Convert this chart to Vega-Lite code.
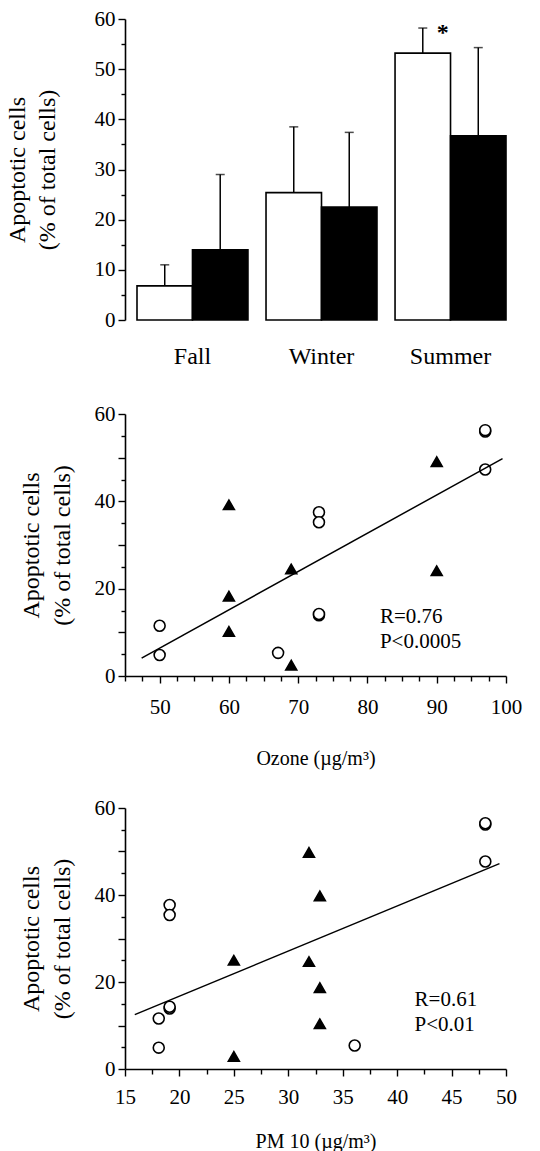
{
  "$schema": "https://vega.github.io/schema/vega-lite/v6.json",
  "background": "white",
  "padding": {"left": 5, "top": 8, "right": 5, "bottom": 5},
  "spacing": 94,
  "bounds": "flush",
  "config": {
    "view": {"stroke": null},
    "font": "Liberation Serif",
    "axis": {
      "grid": false,
      "domainColor": "black",
      "domainWidth": 1.6,
      "tickColor": "black",
      "tickWidth": 1.4,
      "labelColor": "black",
      "titleColor": "black",
      "labelFont": "Liberation Serif",
      "titleFont": "Liberation Serif",
      "titleFontWeight": "normal",
      "labelFontSize": 21,
      "titleFontSize": 21,
      "labelOverlap": false,
      "labelBound": false,
      "labelFlush": false
    }
  },
  "vconcat": [
    {
      "width": 393,
      "height": 301,
      "data": {"values": [
        {"season": "Fall", "group": "A", "value": 6.8, "upper": 11},
        {"season": "Fall", "group": "B", "value": 14, "upper": 29},
        {"season": "Winter", "group": "A", "value": 25.4, "upper": 38.5},
        {"season": "Winter", "group": "B", "value": 22.5, "upper": 37.4},
        {"season": "Summer", "group": "A", "value": 53.2, "upper": 58.2},
        {"season": "Summer", "group": "B", "value": 36.7, "upper": 54.3}
      ]},
      "encoding": {
        "x": {"field": "season", "type": "nominal", "sort": ["Fall", "Winter", "Summer"],
          "scale": {"paddingInner": 0.14, "paddingOuter": 0.093},
          "axis": {"title": null, "domain": false, "ticks": false, "labelAngle": 0, "labelFontSize": 24, "labelPadding": 24}},
        "xOffset": {"field": "group", "type": "nominal", "scale": {"paddingInner": 0, "paddingOuter": 0}}
      },
      "layer": [
        {
          "mark": {"type": "rule", "stroke": "black", "strokeWidth": 1.5},
          "encoding": {
            "y": {"field": "value", "type": "quantitative"},
            "y2": {"field": "upper"}
          }
        },
        {
          "mark": {"type": "tick", "color": "black", "size": 9, "thickness": 1.5},
          "encoding": {
            "y": {"field": "upper", "type": "quantitative"}
          }
        },
        {
          "mark": {"type": "bar", "stroke": "black", "strokeWidth": 1.6},
          "encoding": {
            "y": {"field": "value", "type": "quantitative",
              "scale": {"domain": [0, 60], "nice": false},
              "axis": {"values": [0, 5, 10, 15, 20, 25, 30, 35, 40, 45, 50, 55, 60],
                "tickCount": 100,
                "format": "d",
                "labelExpr": "datum.value % 10 === 0 ? datum.label : ''",
                "labelOverlap": false,
                "tickSize": {"condition": {"test": "datum.value % 10 === 0", "value": 7}, "value": 4},
                "labelPadding": 3,
                "title": ["Apoptotic cells", "(% of total cells)"],
                "titleFontSize": 24,
                "titleLineHeight": 30,
                "titlePadding": 35}},
            "fill": {"field": "group", "type": "nominal", "scale": {"domain": ["A", "B"], "range": ["white", "black"]}, "legend": null}
          }
        },
        {
          "data": {"values": [{"season": "Summer", "group": "A", "y": 57.2, "label": "*"}]},
          "mark": {"type": "text", "fontSize": 24, "fontWeight": "bold", "dx": 20, "baseline": "middle", "color": "black"},
          "encoding": {
            "y": {"field": "y", "type": "quantitative"},
            "text": {"field": "label"}
          }
        }
      ]
    },
    {
      "spacing": 132,
      "bounds": "flush",
      "vconcat": [
        {
          "width": 381,
          "height": 262,
          "layer": [
            {
              "data": {"values": [
                {"ozone": 50, "apo": 11.5, "kind": "open"},
                {"ozone": 50, "apo": 4.8, "kind": "open"},
                {"ozone": 67.1, "apo": 5.3, "kind": "open"},
                {"ozone": 73, "apo": 37.5, "kind": "open"},
                {"ozone": 73, "apo": 35.2, "kind": "open"},
                {"ozone": 73, "apo": 13.9, "kind": "open"},
                {"ozone": 73, "apo": 14.2, "kind": "open"},
                {"ozone": 97, "apo": 56.0, "kind": "open"},
                {"ozone": 97, "apo": 56.3, "kind": "open"},
                {"ozone": 97, "apo": 47.3, "kind": "open"},
                {"ozone": 60, "apo": 39.2, "kind": "filled"},
                {"ozone": 60, "apo": 18.3, "kind": "filled"},
                {"ozone": 60, "apo": 10.2, "kind": "filled"},
                {"ozone": 69, "apo": 24.5, "kind": "filled"},
                {"ozone": 69, "apo": 2.5, "kind": "filled"},
                {"ozone": 90, "apo": 49.1, "kind": "filled"},
                {"ozone": 90, "apo": 24.1, "kind": "filled"}
              ]},
              "mark": {"type": "point", "filled": true, "stroke": "black", "strokeWidth": 1.6, "opacity": 1, "size": 120},
              "encoding": {
                "x": {"field": "ozone", "type": "quantitative",
                  "scale": {"domain": [45, 100], "nice": false, "zero": false},
                  "axis": {"values": [45, 47.5, 50, 52.5, 55, 57.5, 60, 62.5, 65, 67.5, 70, 72.5, 75, 77.5, 80, 82.5, 85, 87.5, 90, 92.5, 95, 97.5, 100],
                    "tickCount": 100,
                    "format": "d",
                    "labelExpr": "datum.value % 10 === 0 ? datum.label : ''",
                    "labelOverlap": false,
                    "tickSize": {"condition": {"test": "datum.value % 10 === 0", "value": 7}, "value": 5},
                    "labelPadding": 13,
                    "title": "Ozone (µg/m³)", "titleFontSize": 20, "titlePadding": 31}},
                "y": {"field": "apo", "type": "quantitative",
                  "scale": {"domain": [0, 60], "nice": false},
                  "axis": {"values": [0, 5, 10, 15, 20, 25, 30, 35, 40, 45, 50, 55, 60],
                    "tickCount": 100,
                    "format": "d",
                    "labelExpr": "datum.value % 20 === 0 ? datum.label : ''",
                    "labelOverlap": false,
                    "tickSize": {"condition": {"test": "datum.value % 10 === 0", "value": 7}, "value": 4},
                    "labelPadding": 3,
                    "title": ["Apoptotic cells", "(% of total cells)"],
                    "titleFontSize": 24,
                    "titleLineHeight": 31,
                    "titlePadding": 20}},
                "shape": {"field": "kind", "type": "nominal", "scale": {"domain": ["open", "filled"], "range": ["circle", "triangle-up"]}, "legend": null},
                "fill": {"field": "kind", "type": "nominal", "scale": {"domain": ["open", "filled"], "range": ["transparent", "black"]}, "legend": null}
              }
            },
            {
              "data": {"values": [{"ozone": 47.4, "apo": 4.1}, {"ozone": 99.5, "apo": 49.8}]},
              "mark": {"type": "line", "color": "black", "strokeWidth": 1.5},
              "encoding": {
                "x": {"field": "ozone", "type": "quantitative"},
                "y": {"field": "apo", "type": "quantitative"}
              }
            },
            {
              "data": {"values": [{"ozone": 81.8, "apo": 13.5, "t": "R=0.76"}, {"ozone": 81.8, "apo": 7.8, "t": "P<0.0005"}]},
              "mark": {"type": "text", "align": "left", "baseline": "middle", "fontSize": 21, "color": "black"},
              "encoding": {
                "x": {"field": "ozone", "type": "quantitative"},
                "y": {"field": "apo", "type": "quantitative"},
                "text": {"field": "t"}
              }
            }
          ]
        },
        {
          "width": 381,
          "height": 261,
          "layer": [
            {
              "data": {"values": [
                {"pm": 18.1, "apo": 11.6, "kind": "open"},
                {"pm": 18.1, "apo": 4.9, "kind": "open"},
                {"pm": 19.1, "apo": 37.7, "kind": "open"},
                {"pm": 19.1, "apo": 35.4, "kind": "open"},
                {"pm": 19.1, "apo": 13.9, "kind": "open"},
                {"pm": 19.1, "apo": 14.3, "kind": "open"},
                {"pm": 36.1, "apo": 5.4, "kind": "open"},
                {"pm": 48.1, "apo": 56.2, "kind": "open"},
                {"pm": 48.1, "apo": 56.5, "kind": "open"},
                {"pm": 48.1, "apo": 47.7, "kind": "open"},
                {"pm": 31.9, "apo": 49.8, "kind": "filled"},
                {"pm": 32.9, "apo": 39.8, "kind": "filled"},
                {"pm": 25, "apo": 25.0, "kind": "filled"},
                {"pm": 31.9, "apo": 24.7, "kind": "filled"},
                {"pm": 32.9, "apo": 18.7, "kind": "filled"},
                {"pm": 32.9, "apo": 10.4, "kind": "filled"},
                {"pm": 25, "apo": 2.9, "kind": "filled"}
              ]},
              "mark": {"type": "point", "filled": true, "stroke": "black", "strokeWidth": 1.6, "opacity": 1, "size": 120},
              "encoding": {
                "x": {"field": "pm", "type": "quantitative",
                  "scale": {"domain": [15, 50], "nice": false, "zero": false},
                  "axis": {"values": [15, 17.5, 20, 22.5, 25, 27.5, 30, 32.5, 35, 37.5, 40, 42.5, 45, 47.5, 50],
                    "tickCount": 100,
                    "format": "d",
                    "labelExpr": "datum.value % 5 === 0 ? datum.label : ''",
                    "labelOverlap": false,
                    "tickSize": {"condition": {"test": "datum.value % 5 === 0", "value": 7}, "value": 5},
                    "labelPadding": 10,
                    "title": "PM 10 (µg/m³)", "titleFontSize": 20, "titlePadding": 24}},
                "y": {"field": "apo", "type": "quantitative",
                  "scale": {"domain": [0, 60], "nice": false},
                  "axis": {"values": [0, 5, 10, 15, 20, 25, 30, 35, 40, 45, 50, 55, 60],
                    "tickCount": 100,
                    "format": "d",
                    "labelExpr": "datum.value % 20 === 0 ? datum.label : ''",
                    "labelOverlap": false,
                    "tickSize": {"condition": {"test": "datum.value % 10 === 0", "value": 7}, "value": 4},
                    "labelPadding": 3,
                    "title": ["Apoptotic cells", "(% of total cells)"],
                    "titleFontSize": 24,
                    "titleLineHeight": 31,
                    "titlePadding": 20}},
                "shape": {"field": "kind", "type": "nominal", "scale": {"domain": ["open", "filled"], "range": ["circle", "triangle-up"]}, "legend": null},
                "fill": {"field": "kind", "type": "nominal", "scale": {"domain": ["open", "filled"], "range": ["transparent", "black"]}, "legend": null}
              }
            },
            {
              "data": {"values": [{"pm": 15.9, "apo": 12.5}, {"pm": 49.4, "apo": 47.2}]},
              "mark": {"type": "line", "color": "black", "strokeWidth": 1.5},
              "encoding": {
                "x": {"field": "pm", "type": "quantitative"},
                "y": {"field": "apo", "type": "quantitative"}
              }
            },
            {
              "data": {"values": [{"pm": 41.6, "apo": 15.9, "t": "R=0.61"}, {"pm": 41.6, "apo": 10.1, "t": "P<0.01"}]},
              "mark": {"type": "text", "align": "left", "baseline": "middle", "fontSize": 21, "color": "black"},
              "encoding": {
                "x": {"field": "pm", "type": "quantitative"},
                "y": {"field": "apo", "type": "quantitative"},
                "text": {"field": "t"}
              }
            }
          ]
        }
      ]
    }
  ]
}
